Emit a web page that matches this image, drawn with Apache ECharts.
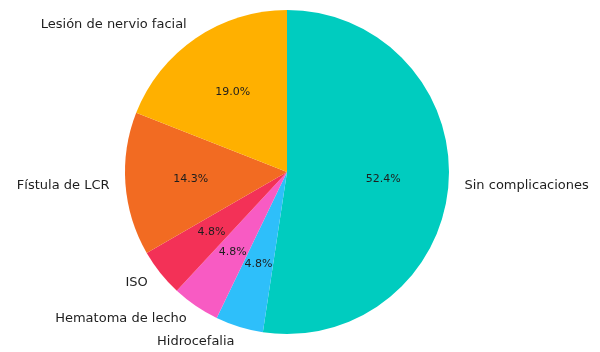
<!DOCTYPE html>
<html>
<head>
<meta charset="utf-8">
<script src="https://cdn.jsdelivr.net/npm/echarts@6/dist/echarts.min.js"></script>
<style>
  html, body { margin: 0; padding: 0; background: #fff; }
  #chart { width: 600px; height: 352px; }
</style>
</head>
<body>
<div id="chart"></div>
<script>
// categories in drawing order, clockwise from 12 o'clock
var categories = ['Sin complicaciones', 'Hidrocefalia', 'Hematoma de lecho', 'ISO', 'Fístula de LCR', 'Lesión de nervio facial'];
var counts = [11, 1, 1, 1, 3, 4];
var colors = ['#00CCBF', '#2EBFFA', '#F85BC3', '#F33157', '#F26B22', '#FFB000'];

var total = counts.reduce(function (a, b) { return a + b; }, 0);
var slices = [];
for (let i = 0; i < categories.length; i++) {
  slices.push({ name: categories[i], value: counts[i], itemStyle: { color: colors[i] } });
}

var chart = echarts.init(document.getElementById('chart'));
var R = 162;

var option = {
  animation: false,
  series: [{
    type: 'pie',
    center: [287, 172],
    radius: [0, R],
    startAngle: 90,
    clockwise: true,
    avoidLabelOverlap: false,
    silent: true,
    label: {
      show: true,
      position: 'outside',
      alignTo: 'none',
      distanceToLabelLine: 0,
      fontFamily: 'DejaVu Sans',
      fontSize: 13,
      color: '#1e1e1e',
      padding: [2, 0, 0, 0],
      formatter: '{b}'
    },
    labelLine: { show: false, length: 16, length2: 0 },
    data: slices
  }, {
    // transparent copy, only here to put the percentages at ~0.6 R
    type: 'pie',
    center: [287, 172],
    radius: [25, R],
    startAngle: 90,
    clockwise: true,
    avoidLabelOverlap: false,
    silent: true,
    itemStyle: { color: 'transparent' },
    label: {
      show: true,
      position: 'inside',
      fontFamily: 'DejaVu Sans',
      fontSize: 11,
      color: '#1e1e1e',
      formatter: function (p) { return (p.value / total * 100).toFixed(1) + '%'; }
    },
    data: counts.map(function (v, i) { return { name: categories[i], value: v }; })
  }]
};

chart.setOption(option);
</script>
</body>
</html>
